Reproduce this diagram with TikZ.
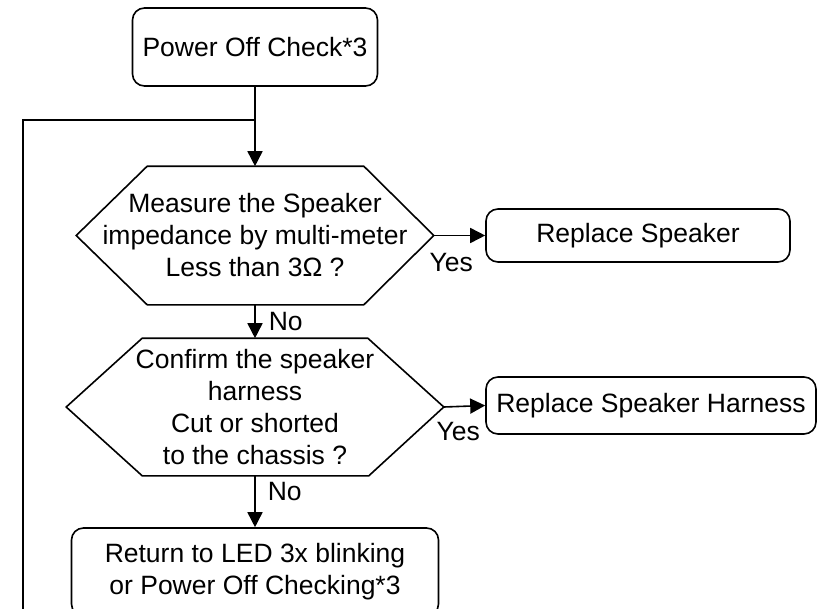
\documentclass[tikz,border=0pt]{standalone}
\usepackage{fontspec}
\setmainfont{Liberation Sans}
\usetikzlibrary{arrows.meta, calc}

\begin{document}
\begin{tikzpicture}[x=1pt, y=-1pt, line width=1.6pt,
    font=\fontsize{26.5}{32}\selectfont,
    % Define the styles for boxes, labels and arrows
    stepbox/.style={draw, rounded corners=12pt, align=center, inner sep=0pt},
    hexbox/.style={align=center, inner sep=0pt},
    flow/.style={-{Triangle[length=15pt, width=15pt]}},
    tag/.style={inner sep=0pt, anchor=west}
]
\useasboundingbox (0,0) rectangle (821,608);

% Define the points of the loop back line
\coordinate (J) at (255,120);
\coordinate (L) at (23,120);
\coordinate (E) at (23,620);

% Place the boxes
\node[stepbox, minimum width=245pt, minimum height=78pt] (pwr) at (255,47) {Power Off Check*3};
\node[hexbox, minimum width=356pt, minimum height=137pt] (meas) at (255,235.5) {Measure the Speaker\\impedance by multi-meter\\Less than 3Ω ?};
\node[stepbox, minimum width=304pt, minimum height=53pt] (spk) at (638,235.5) {Replace Speaker};
\node[hexbox, minimum width=376pt, minimum height=136pt] (conf) at (255,407) {Confirm the speaker\\harness\\Cut or shorted\\to the chassis ?};
\node[stepbox, minimum width=330pt, minimum height=57pt] (har) at (651,405.5) {Replace Speaker Harness};
\node[stepbox, minimum width=367pt, minimum height=88pt] (ret) at (255,572) {Return to LED 3x blinking\\or Power Off Checking*3};

% Draw the hexagon outlines
\draw (meas.west) -- ($(meas.north west)+(71,0)$) -- ($(meas.north east)+(-70,0)$) -- (meas.east)
    -- ($(meas.south east)+(-70,0)$) -- ($(meas.south west)+(71,0)$) -- cycle;
\draw (conf.west) -- ($(conf.north west)+(76,0)$) -- ($(conf.north east)+(-76,0)$) -- (conf.east)
    -- ($(conf.south east)+(-75,0)$) -- ($(conf.south west)+(76,0)$) -- cycle;

% Draw the arrows with labels
\draw[flow] (pwr.south) -- (meas.north);
\draw[flow] (meas.east) -- (spk.west) node[pos=0, tag, xshift=-5pt, yshift=-27.5pt] {Yes};
\draw[flow] (meas.south) -- (conf.north) node[midway, tag, xshift=13pt] {No};
\draw[flow] (conf.east) -- (har.west) node[pos=0, tag, xshift=-8pt, yshift=-25pt] {Yes};
\draw[flow] (conf.south) -- (ret.north) node[pos=0.3, tag, xshift=12pt] {No};

% Draw the loop back line
\draw (J) -- (L) -- (E);

\end{tikzpicture}
\end{document}
